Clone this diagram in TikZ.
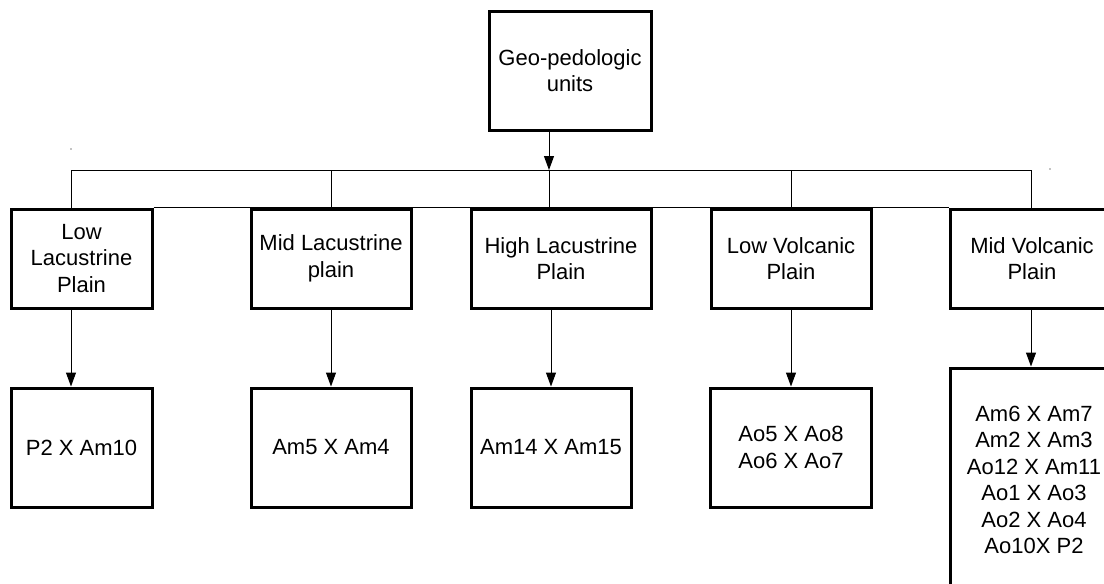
\documentclass[tikz,border=0pt]{standalone}
\usepackage{fontspec}
\setmainfont{Liberation Sans}
\usetikzlibrary{arrows.meta}

\begin{document}
\begin{tikzpicture}[->,>={Triangle[length=14pt,width=10pt]},x=1pt,y=-1pt,
                    line width=1pt]
  \tikzstyle{every node}=[font=\fontsize{22}{26.5}\selectfont]
  \tikzstyle{unit}=[draw,line width=3pt,fill=white,align=center,inner sep=0pt]

  \useasboundingbox (0,0) rectangle (1104,584);
  \clip (0,0) rectangle (1104,584);

  \node[unit,minimum width=162pt,minimum height=119pt] (geo) at (570,70.5) {Geo-pedologic\\units};

  % plains
  \node[unit,minimum width=141pt,minimum height=99pt] (llp) at (81.5,258.5) {Low\\Lacustrine\\Plain};
  \node[unit,minimum width=160pt,minimum height=99pt] (mlp) at (331,258.5)  {Mid Lacustrine\\plain};
  \node[unit,minimum width=180pt,minimum height=99pt] (hlp) at (561,258.5)  {High Lacustrine\\Plain};
  \node[unit,minimum width=160pt,minimum height=99pt] (lvp) at (791,258.5)  {Low Volcanic\\Plain};
  \node[unit,minimum width=164pt,minimum height=99pt] (mvp) at (1032,258.5) {Mid Volcanic\\Plain};

  % crosses
  \node[unit,minimum width=141pt,minimum height=119pt] (llx) at (81.5,447.5) {P2 X Am10};
  \node[unit,minimum width=160pt,minimum height=119pt] (mlx) at (331,447.5)  {Am5 X Am4};
  \node[unit,minimum width=160pt,minimum height=119pt] (hlx) at (551,447.5)  {Am14 X Am15};
  \node[unit,minimum width=161pt,minimum height=119pt] (lvx) at (791,447.5)  {Ao5 X Ao8\\Ao6 X Ao7};
  \node[unit,minimum width=168pt,minimum height=224pt] (mvx) at (1034,480)   {Am6 X Am7\\Am2 X Am3\\Ao12 X Am11\\Ao1 X Ao3\\Ao2 X Ao4\\Ao10X P2};

  \coordinate (bus)  at (549,170);
  \coordinate (busl) at (71,170);
  \coordinate (busr) at (1031,170);

  \path (geo.south -| bus) edge (bus)
        (busl) edge[-] (busr)
        (busl) edge[-] (busl |- llp.north)
        (mlp.north |- bus) edge[-] (mlp.north)
        (bus) edge[-] (bus |- hlp.north)
        (lvp.north |- bus) edge[-] (lvp.north)
        (busr) edge[-] (busr |- mvp.north)
        (llp.north east) edge[-] (mvp.north west);

  \path (llp.south -| busl) edge (llx.north -| busl)
        (mlp) edge (mlx)
        (hlp.south -| hlx) edge (hlx)
        (lvp) edge (lvx)
        (mvp.south -| busr) edge (mvx.north -| busr);

  \fill (71,149) circle (0.6pt) (1050,169) circle (0.6pt);
\end{tikzpicture}
\end{document}
